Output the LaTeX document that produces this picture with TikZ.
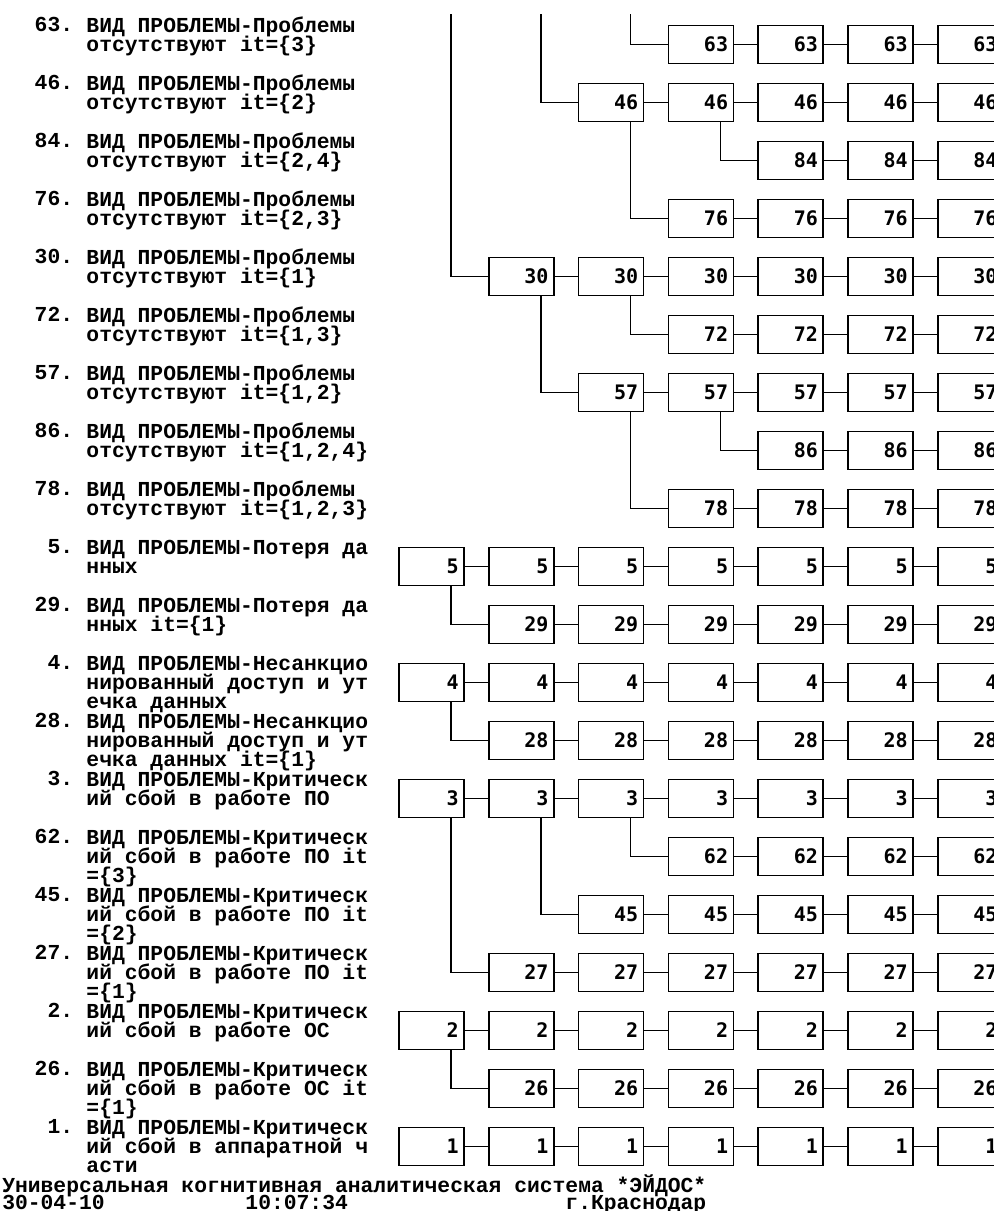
\documentclass[tikz,border=0pt]{standalone}
\usepackage{fontspec}
\newfontfamily\lblfont{Liberation Mono}
\newfontfamily\cellfont{DejaVu Sans Mono}
\lineskiplimit=-100pt
\newcommand\pnone{ВИД ПРОБЛЕМЫ-Проблемы\\отсутствуют it=}
\newcommand\pnsd{ВИД ПРОБЛЕМЫ-Несанкцио\\нированный доступ и ут}
\newcommand\pcrit{ВИД ПРОБЛЕМЫ-Критическ}
\tikzset{
  cell/.style={draw, line width=1.1pt, font=\cellfont\bfseries\fontsize{15}{15}\selectfont,
    text width=40.75pt, align=right, inner xsep=4pt, inner ysep=0pt, minimum height=28.5pt},
  link/.style={line width=1.1pt},
  lbl/.style={font=\lblfont\bfseries\fontsize{16}{14.55}\selectfont, inner sep=0pt,
    anchor=north west, align=left},
  foot/.style={font=\lblfont\bfseries\fontsize{16}{13.3}\selectfont, inner sep=0pt, anchor=base west}
}
\begin{document}
\begin{tikzpicture}[x=0.75pt, y=-0.75pt]
  \clip (0,0) rectangle (994,1211);
  \foreach \r/\n/\desc in {0/63/{\pnone\{3\}}, 1/46/{\pnone\{2\}}, 2/84/{\pnone\{2,4\}},
      3/76/{\pnone\{2,3\}}, 4/30/{\pnone\{1\}}, 5/72/{\pnone\{1,3\}}, 6/57/{\pnone\{1,2\}},
      7/86/{\pnone\{1,2,4\}}, 8/78/{\pnone\{1,2,3\}},
      9/5/{ВИД ПРОБЛЕМЫ-Потеря да\\нных}, 10/29/{ВИД ПРОБЛЕМЫ-Потеря да\\нных it=\{1\}},
      11/4/{\pnsd\\ечка данных}, 12/28/{\pnsd\\ечка данных it=\{1\}},
      13/3/{\pcrit\\ий сбой в работе ПО}, 14/62/{\pcrit\\ий сбой в работе ПО it\\=\{3\}},
      15/45/{\pcrit\\ий сбой в работе ПО it\\=\{2\}}, 16/27/{\pcrit\\ий сбой в работе ПО it\\=\{1\}},
      17/2/{\pcrit\\ий сбой в работе ОС}, 18/26/{\pcrit\\ий сбой в работе ОС it\\=\{1\}},
      19/1/{\pcrit\\ий сбой в аппаратной ч\\асти}} {
    \node[lbl, anchor=base east] (n\n) at (73.4, 31.8+58*\r) {\n.};
    \node[lbl] (t\n) at (86.2, 14.47+58*\r) {\rule{0pt}{13pt}\desc};
  }
  \foreach \r/\n/\f in {0/63/3, 1/46/2, 2/84/4, 3/76/3, 4/30/1, 5/72/3, 6/57/2, 7/86/4, 8/78/3,
      9/5/0, 10/29/1, 11/4/0, 12/28/1, 13/3/0, 14/62/3, 15/45/2, 16/27/1, 17/2/0, 18/26/1, 19/1/0}
    \foreach \c in {\f,...,6} {
      \node[cell] (b\r-\c) at (431.5+89.8*\c, 44.5+58*\r) {\n};
      \ifnum\c>\f \pgfmathtruncatemacro\p{\c-1} \draw[link] (b\r-\p) -- (b\r-\c); \fi
    }
  \foreach \pa/\ch in {1-2/3-3, 1-3/2-4, 4-1/6-2, 4-2/5-3, 6-2/8-3, 6-3/7-4, 9-0/10-1,
      11-0/12-1, 13-0/16-1, 13-1/15-2, 13-2/14-3, 17-0/18-1}
    \draw[link] ([xshift=14.6pt]b\pa.south) |- (b\ch.west);
  \foreach \i/\ch in {0/4-1, 1/1-2, 2/0-3} {
    \coordinate (top\i) at (451+89.8*\i, 14);
    \draw[link] (top\i) |- (b\ch.west);
  }
  \node[foot] (foot1) at (2,1192) {Универсальная когнитивная аналитическая система *ЭЙДОС*};
  \node[foot] (date) at (2,1209.7) {30-04-10};
  \node[foot] (time) at (245.2,1209.7) {10:07:34};
  \node[foot] (city) at (565.2,1209.7) {г.Краснодар};
\end{tikzpicture}
\end{document}
